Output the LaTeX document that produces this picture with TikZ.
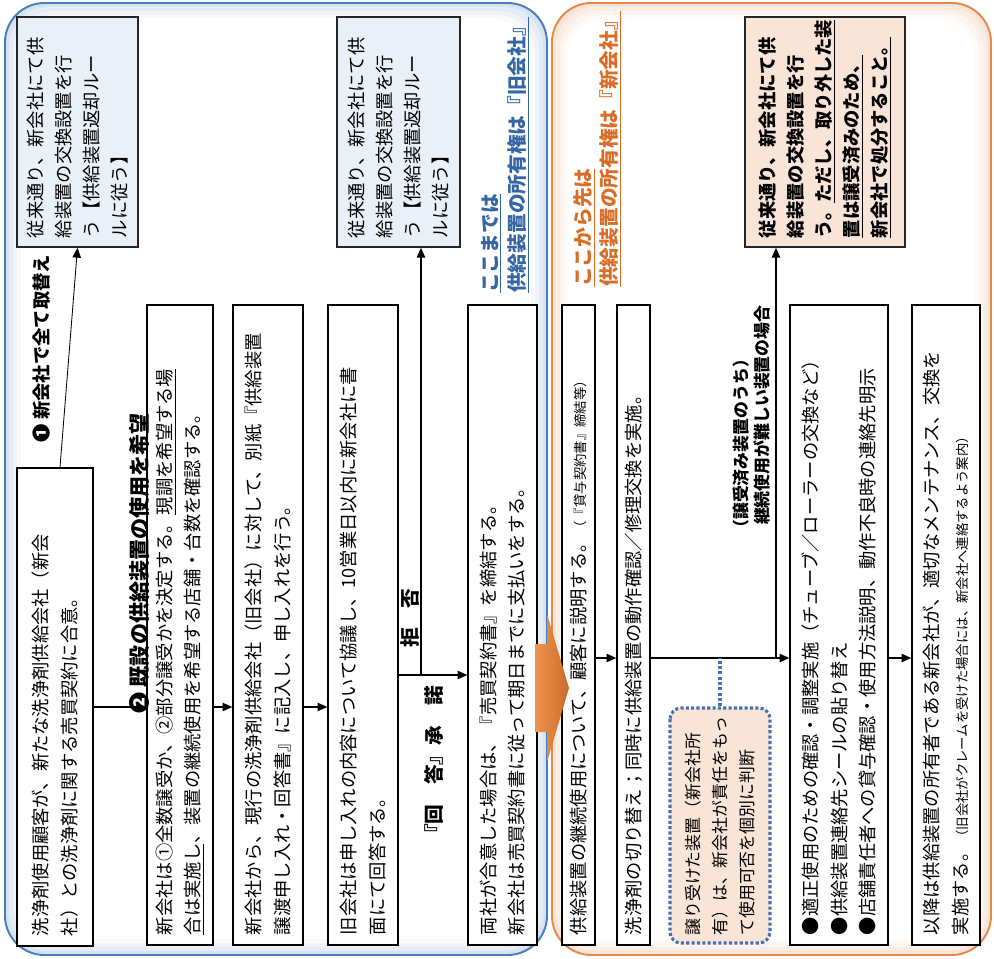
\documentclass[tikz,border=0pt]{standalone}
\usepackage{fontspec}
\setmainfont{Noto Sans CJK JP}
\usetikzlibrary{arrows.meta}

\definecolor{panelblue}{RGB}{74,126,187}
\definecolor{panelorange}{RGB}{228,138,76}
\definecolor{noteblue}{RGB}{52,101,164}
\definecolor{noteorange}{RGB}{218,108,38}
\definecolor{dotblue}{RGB}{68,114,176}
\definecolor{arroworange}{RGB}{236,128,48}

\begin{document}
\begin{tikzpicture}[x=0.025cm, y=-0.025cm,
    every node/.style={font=\fontsize{13}{20}\selectfont},
    stepbox/.style={draw, line width=0.9pt, fill=white, rotate=90, align=left,
        inner xsep=6pt, minimum width=16cm, text width=15.5cm},
    rulebox/.style={draw=black!85, line width=1.1pt, rotate=90, align=left,
        inner xsep=6pt, minimum width=5.75cm, text width=5.3cm},
    judgebox/.style={draw=dotblue, line width=2.2pt, dash pattern=on 2.2pt off 1.6pt,
        fill=panelorange!22, rounded corners=8pt, rotate=90, align=left,
        minimum width=5.875cm, text width=5.5cm, minimum height=2.5cm,
        font=\fontsize{12}{19}\selectfont},
    flow/.style={line width=0.9pt, -{Triangle[length=7pt,width=6pt]}},
    tag/.style={rotate=90, font=\fontsize{14}{20}\selectfont\bfseries},
    note/.style={rotate=90, anchor=north west, align=left, inner sep=0pt,
        font=\fontsize{14}{19}\selectfont\bfseries},
]
    \useasboundingbox (0,0) rectangle (994,959);

    % --- Panels (with soft glow) ---
    \foreach \inset/\tint in {0/22, 4/15, 8/9, 12/4, 16/0} {
        \fill[panelblue!\tint!white, rounded corners=28pt]
            (5+\inset, 3+\inset) rectangle (547-\inset, 955-\inset);
        \fill[panelorange!\tint!white, rounded corners=28pt]
            (552+\inset, 3+\inset) rectangle (991-\inset, 955-\inset);
    }
    \draw[panelblue, line width=1.4pt, rounded corners=28pt] (5,3) rectangle (547,955);
    \draw[panelorange, line width=1.4pt, rounded corners=28pt] (552,3) rectangle (991,955);

    % --- Left panel: old company owns the device ---
    \node[stepbox, minimum width=11.95cm, text width=11.45cm, minimum height=1.9cm]
        (start) at (55,707)
        {洗浄剤使用顧客が、新たな洗浄剤供給会社（新会\\社）との洗浄剤に関する売買契約に合意。};
    \node[rulebox, fill=panelblue!12, minimum height=3.025cm] (oldrule1) at (77.5,132)
        {従来通り、新会社にて供\\給装置の交換設置を行\\う【供給装置返却ルー\\ルに従う】};
    \node[stepbox, minimum height=1.65cm] (decide) at (180,625)
        {新会社は①全数譲受か、②部分譲受かを決定する。\underline{現調を希望する場}\\\underline{合は実施し}、装置の継続使用を希望する店舗・台数を確認する。};
    \node[stepbox, minimum height=1.75cm] (offer) at (268,625)
        {新会社から、現行の洗浄剤供給会社（旧会社）に対して、別紙『供給装置\\譲渡申し入れ・回答書』に記入し、申し入れを行う。};
    \node[stepbox, minimum height=1.75cm] (reply) at (363,625)
        {旧会社は申し入れの内容について協議し、10営業日以内に新会社に書\\面にて回答する。};
    \node[rulebox, fill=panelblue!12, minimum height=3.075cm] (oldrule2) at (398.5,132)
        {従来通り、新会社にて供\\給装置の交換設置を行\\う【供給装置返却ルー\\ルに従う】};
    \node[stepbox, minimum height=1.725cm] (contract) at (502.5,625)
        {両社が合意した場合は、『売買契約書』を締結する。\\新会社は売買契約書に従って期日までに支払いをする。};

    % --- Labels ---
    \node[tag, anchor=west, font=\fontsize{13}{20}\selectfont\bfseries] (allnew) at (42,447)
        {❶ 新会社で全て取替え};
    \node[tag, anchor=west, font=\fontsize{15}{20}\selectfont\bfseries] (reuse) at (139,718)
        {❷ 既設の供給装置の使用を希望};
    \node[tag] (refuse) at (410,618) {拒　否};
    \node[tag] (accept) at (434,765) {『回　答』承　諾};
    \node[note, text=noteblue] (oldowner) at (481,293)
        {\underline{ここまでは}\\\underline{供給装置の所有権は『旧会社』}};

    % --- Right panel: new company owns the device ---
    \node[note, text=noteorange] (newowner) at (573,287)
        {\underline{ここから先は}\\\underline{供給装置の所有権は『新会社』}};
    \node[stepbox, minimum height=0.825cm] (explain) at (578.5,625)
        {供給装置の継続使用について、顧客に説明する。{\fontsize{9.5}{12}\selectfont（『貸与契約書』締結等）}};
    \node[stepbox, minimum height=0.825cm] (switch) at (633.5,625)
        {洗浄剤の切り替え；同時に供給装置の動作確認／修理交換を実施。};
    \node[judgebox] (judge) at (720,825.5)
        {譲り受けた装置（新会社所\\有）は、新会社が責任をもっ\\て使用可否を個別に判断};
    \node[note, font=\fontsize{12}{15}\selectfont\bfseries] (hardcase) at (733,537)
        {（譲受済み装置のうち）\\\hspace{0.7em}継続使用が難しい装置の場合};
    \node[rulebox, fill=panelorange!22, minimum height=4cm,
        font=\fontsize{13}{20}\selectfont\bfseries] (newrule) at (825,132)
        {従来通り、新会社にて供\\給装置の交換設置を行\\う。\underline{ただし、取り外した装}\\\underline{置は譲受済みのため、}\\\underline{新会社で処分すること。}};
    \node[stepbox, minimum height=2.45cm] (check) at (839,625)
        {●適正使用のための確認・調整実施（チューブ／ローラーの交換など）\\●供給装置連絡先シールの貼り替え\\●店舗責任者への貸与確認・使用方法説明、動作不良時の連絡先明示};
    \node[stepbox, minimum height=1.7cm] (after) at (946,625)
        {以降は供給装置の所有者である新会社が、適切なメンテナンス、交換を\\実施する。{\fontsize{9.5}{12}\selectfont（旧会社がクレームを受けた場合には、新会社へ連絡するよう案内）}};

    % --- Connectors ---
    \coordinate (fork1) at (421,675);
    \coordinate (fork2) at (776,658);
    \draw[flow, line width=0.6pt] (start.east) ++(5,0) -- (oldrule1.west);
    \draw[flow] (start.south) -- (start.south -| decide.north);
    \draw[flow] (decide.south |- start.south) -- (offer.north |- start.south);
    \draw[flow] (offer.south |- start.south) -- (reply.north |- start.south);
    \draw[flow] (reply.south |- fork1) -- (contract.north |- fork1);
    \draw[flow] (fork1) -- (fork1 |- oldrule2.west);
    \draw[flow] (explain.south |- fork2) -- (switch.north |- fork2);
    \draw[flow] (switch.south |- fork2) -- (check.north |- fork2);
    \draw[flow] (fork2) -- (fork2 |- newrule.west);
    \draw[flow] (check.south |- fork2) -- (after.north |- fork2);
    \draw[dotblue, line width=2.2pt, dash pattern=on 2.2pt off 1.6pt]
        (judge.east) -- (judge.east |- fork2);

    % --- Big arrow between panels ---
    \shade[left color=arroworange!85!white, right color=arroworange!85!black]
        (535,644) -- (547,644) -- (547,614) -- (569,688) -- (547,762)
        -- (547,732) -- (535,732) -- cycle;

\end{tikzpicture}
\end{document}
